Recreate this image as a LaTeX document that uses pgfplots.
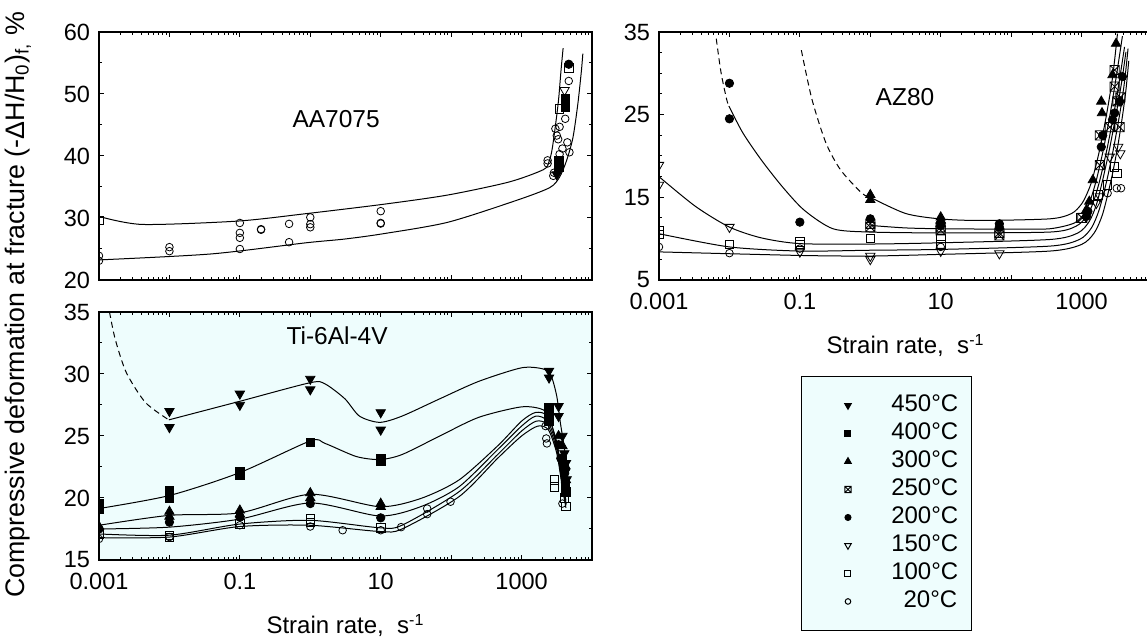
\documentclass[border=0pt]{standalone}
\usepackage{fontspec}
\setmainfont{Liberation Sans}
\usepackage{pgfplots}
\pgfplotsset{compat=1.18}
\definecolor{bgc}{RGB}{238,253,253}
\pgfdeclareplotmark{boxx}{%
  \pgfpathrectangle{\pgfqpoint{-\pgfplotmarksize}{-\pgfplotmarksize}}{\pgfqpoint{2\pgfplotmarksize}{2\pgfplotmarksize}}%
  \pgfpathmoveto{\pgfqpoint{-\pgfplotmarksize}{-\pgfplotmarksize}}%
  \pgfpathlineto{\pgfqpoint{\pgfplotmarksize}{\pgfplotmarksize}}%
  \pgfpathmoveto{\pgfqpoint{-\pgfplotmarksize}{\pgfplotmarksize}}%
  \pgfpathlineto{\pgfqpoint{\pgfplotmarksize}{-\pgfplotmarksize}}%
  \pgfusepathqstroke}
\pgfplotsset{
  crv/.style={black, line width=0.5pt, smooth, tension=0.45, mark=none},
  dcrv/.style={crv, dash pattern=on 3pt off 2pt},
  m450/.style={black, only marks, mark=triangle*, mark size=2.7pt, mark options={rotate=180, fill=black}},
  m400/.style={black, only marks, mark=square*, mark size=2.1pt, mark options={fill=black}},
  m300/.style={black, only marks, mark=triangle*, mark size=2.7pt, mark options={fill=black}},
  m250/.style={black, only marks, mark=boxx, mark size=2.3pt},
  m200/.style={black, only marks, mark=*, mark size=2.1pt, mark options={fill=black}},
  m150/.style={black, only marks, mark=triangle, mark size=2.7pt, mark options={rotate=180}},
  m100/.style={black, only marks, mark=square, mark size=2.1pt},
  m20/.style={black, only marks, mark=o, mark size=1.9pt},
  every axis/.append style={scale only axis, width=246.5pt, height=124pt,
    xmin=0.001, xmax=10000,
    xtick={0.001,0.01,0.1,1,10,100,1000,10000},
    minor xtick={0.002,0.003,0.004,0.005,0.006,0.007,0.008,0.009,0.02,0.03,0.04,0.05,0.06,0.07,0.08,0.09,0.2,0.3,0.4,0.5,0.6,0.7,0.8,0.9,2,3,4,5,6,7,8,9,20,30,40,50,60,70,80,90,200,300,400,500,600,700,800,900,2000,3000,4000,5000,6000,7000,8000,9000},
    clip marker paths=true,
    axis line style={line width=0.75pt},
    tick style={black, line width=0.5pt},
    major tick length=2.5pt, minor tick length=1.5pt,
    tick label style={font=\fontsize{11.75}{13}\selectfont},
    xticklabel style={yshift=-3pt},
    yticklabel style={xshift=-1pt},
    x label style={at={(axis description cs:0.5,-0.298)}, anchor=base, font=\fontsize{12}{14}\selectfont},
  },
}
\begin{document}
\begin{tikzpicture}[font=\fontsize{12.25}{14}\selectfont]
% ---------------- AA7075 ----------------
\begin{semilogxaxis}[at={(49.5pt,178.5pt)}, anchor=south west,
  ymin=20, ymax=60, ytick={20,30,40,50,60}, yticklabels={20,30,40,50,60},
  minor ytick={25,35,45,55}, xticklabels={}]
\addplot[crv] coordinates {(0.001,30.26)(0.0041,28.96)(0.093,29.5)(0.87,30.7)(10.7,32.2)(89,33.7)(661,35.8)(2042,37.8)(2455,39.1)(2754,41.5)(3311,48.5)(3631,53.8)(3890,57.4)};
\addplot[crv] coordinates {(0.001,23.24)(0.039,24.2)(0.87,26.0)(3.05,26.6)(10.7,27.45)(89,29.3)(851,32.85)(2512,34.9)(3467,36.6)(4365,39.3)(5370,43.0)(6310,48.5)(7080,53.8)(7413,56.5)};
\addplot[m20] coordinates {(0.001,23.9)(0.001,23.1)(0.01,25.3)(0.01,24.65)(0.1,29.2)(0.1,27.6)(0.1,26.8)(0.1,25.0)(0.2,28.1)(0.2,28.2)(0.5,29.05)(0.5,26.1)(1,30.1)(1,29.0)(1,28.5)(10,31.1)(10,29.2)(10,29.1)(2344,39.3)(2344,38.8)(2818,36.8)(2884,37.3)(3020,44.4)(3162,43.3)(3311,42.7)(3467,44.7)(4169,46.0)(4677,52.1)(4467,42.2)(4786,40.6)(3802,41.2)(3467,40.3)};
\addplot[m100] coordinates {(0.001,29.6)(3467,47.6)(4677,54.2)};
\addplot[m200] coordinates {(4677,54.8)};
\addplot[m400] coordinates {(4169,47.9)(4169,49.3)(3388,39.3)(3388,38.2)};
\addplot[m150] coordinates {(4074,50.6)};
\addplot[m450] coordinates {(3162,37.0)};
\node at (axis description cs:0.481,0.65) {AA7075};
\end{semilogxaxis}
% ---------------- Ti-6Al-4V ----------------
\begin{semilogxaxis}[at={(49.5pt,38.5pt)}, anchor=south west,
  axis background/.style={fill=bgc},
  ymin=15, ymax=35, ytick={15,20,25,30,35}, yticklabels={15,20,25,30,35},
  minor ytick={17.5,22.5,27.5,32.5},
  xticklabels={0.001,,0.1,,10,,1000,},
  xlabel={Strain rate,\ \ s\textsuperscript{-1}}]
\addplot[dcrv] coordinates {(0.00141,35)(0.0017,32.8)(0.00245,30.1)(0.00457,27.7)(0.0098,26.3)};
\addplot[crv] coordinates {(0.0098,26.3)(0.1,27.8)(1,29.3)(1.62,29.2)(3.1,28.0)(5.0,26.6)(9.66,26.1)(20,26.6)(69,28.0)(245,29.4)(1000,30.5)(2042,30.4)(2630,29.85)(3162,28.2)(3548,26.1)(4074,23.9)(4365,21.8)};
\addplot[crv] coordinates {(0.001,19.15)(0.01,20.2)(0.1,22.05)(1,24.6)(1.62,24.4)(4.47,23.35)(9.66,23.1)(20,23.5)(69,25.0)(245,26.5)(1000,27.35)(2042,27.1)(2630,26.05)(3162,24.2)(3802,22.3)(4266,20.9)};
\addplot[crv] coordinates {(0.001,17.8)(0.01,18.6)(0.1,18.8)(1,20.3)(9.66,19.3)(37,19.96)(129,21.45)(457,24.2)(1000,26.2)(1585,26.9)(2344,26.6)(3162,24.5)(3802,21.5)(4266,19.8)};
\addplot[crv] coordinates {(0.001,17.5)(0.01,17.65)(0.1,18.3)(1,19.6)(9.66,18.55)(37,19.3)(129,20.9)(457,23.9)(1000,25.8)(1585,26.6)(2344,26.2)(3162,24.2)(3802,21.3)(4266,19.6)};
\addplot[crv] coordinates {(0.001,17.1)(0.01,17.0)(0.1,17.9)(1,18.2)(9.66,17.6)(20,17.8)(129,20.5)(457,23.5)(1000,25.4)(1622,26.2)(2344,25.9)(3162,23.9)(3802,21.0)(4266,19.4)};
\addplot[crv] coordinates {(0.001,16.8)(0.01,16.85)(0.1,17.7)(1,17.8)(9.66,17.3)(20,17.5)(129,20.1)(457,23.2)(1000,25.0)(1700,25.8)(2400,25.5)(3162,23.6)(3802,20.8)(4266,19.2)};
\addplot[m450] coordinates {(0.01,27.0)(0.01,25.7)(0.1,28.4)(0.1,27.5)(1,29.6)(1,28.75)(10,26.9)(10,25.5)(2455,30.25)(2455,29.7)(3350,27.4)(3350,26.6)(3802,25.0)(4046,23.6)(4169,22.1)(4266,22.8)(4365,21.5)};
\addplot[m400] coordinates {(0.001,19.55)(0.001,19.1)(0.01,20.6)(0.01,19.96)(0.1,22.1)(0.1,21.8)(1,24.5)(10,23.2)(10,23.0)(2455,27.3)(2455,26.7)(2455,26.2)(3802,23.1)(4046,22.5)(4169,21.2)(4266,20.5)};
\addplot[m300] coordinates {(0.001,17.7)(0.01,18.9)(0.01,18.5)(0.1,19.0)(0.1,18.7)(1,20.4)(1,20.0)(10,19.55)(10,19.3)(3350,25.0)(3802,24.2)(4266,21.45)(4169,22.6)};
\addplot[m200] coordinates {(0.001,17.5)(0.01,18.05)(0.1,18.45)(1,19.55)(10,18.4)(3350,24.3)(3600,23.2)(4266,20.6)(4100,22.0)};
\addplot[m100] coordinates {(0.001,17.1)(0.01,17.0)(0.01,16.8)(0.1,17.9)(1,18.3)(1,18.05)(10,17.6)(2900,21.45)(2900,20.9)(4046,20.0)(4266,19.3)};
\addplot[m20] coordinates {(0.001,16.7)(0.01,16.85)(0.1,17.8)(1,17.7)(2.88,17.4)(10,17.4)(19.5,17.65)(45.7,18.7)(45.7,19.15)(98,19.7)(2188,25.8)(2240,24.8)(2290,24.4)(3802,19.55)};
\node at (axis description cs:0.483,0.903) {Ti-6Al-4V};
\end{semilogxaxis}
% ---------------- AZ80 ----------------
\begin{semilogxaxis}[at={(329.5pt,178.5pt)}, anchor=south west,
  ymin=5, ymax=35, ytick={5,15,25,35}, yticklabels={5,15,25,35},
  minor ytick={7.5,10,12.5,17.5,20,22.5,27.5,30,32.5},
  xticklabels={0.001,,0.1,,10,,1000,},
  xlabel={Strain rate,\ \ s\textsuperscript{-1}},
  legend cell align=right,
  legend image code/.code={\path (-16pt,0pt); \draw[#1] plot coordinates {(0pt,0pt)};},
  legend style={at={(0.288,-0.387)}, anchor=north west, draw=black, line width=0.5pt, fill=bgc,
    inner xsep=7pt, inner ysep=7.5pt, row sep=0pt, column sep=20pt,
    font=\fontsize{12}{14}\selectfont,
    nodes={inner sep=0pt, text width=33pt, align=right, text height=10pt, text depth=4pt}}]
\addlegendimage{m450, mark size=1.9pt}\addlegendentry{450°C}
\addlegendimage{m400, mark size=1.5pt}\addlegendentry{400°C}
\addlegendimage{m300, mark size=1.9pt}\addlegendentry{300°C}
\addlegendimage{m250, mark size=1.6pt}\addlegendentry{250°C}
\addlegendimage{m200, mark size=1.5pt}\addlegendentry{200°C}
\addlegendimage{m150, mark size=1.9pt}\addlegendentry{150°C}
\addlegendimage{m100, mark size=1.5pt}\addlegendentry{100°C}
\addlegendimage{m20, mark size=1.4pt}\addlegendentry{20°C}
% curves
\addplot[dcrv, forget plot] coordinates {(0.105,32.8)(0.148,26.9)(0.234,21.6)(0.38,18.3)(0.76,15.5)(1,15.0)};
\addplot[crv, forget plot] coordinates {(1,15.0)(3.16,13.05)(9.55,12.4)(33.9,12.2)(355,12.4)(724,13.05)(1000,14.2)(1202,15.5)(1413,17.1)(1778,20.5)(2239,24.8)(2754,29.5)(3236,34.8)};
\addplot[crv, forget plot] coordinates {(1,11.6)(3.16,11.3)(10,11.2)(100,11.15)(355,11.2)(794,11.9)(1122,13.2)(1349,14.8)(1622,17.1)(2042,20.8)(2570,25.3)(3162,30)(3802,34.5)};
\addplot[dcrv, forget plot] coordinates {(0.0065,34.2)(0.0076,30.1)(0.0091,26.9)(0.0098,26.05)};
\addplot[crv, forget plot] coordinates {(0.0098,26.05)(0.0155,22.8)(0.0282,19.55)(0.0562,16.3)(0.115,13.45)(0.295,11.2)(1,10.8)(10,10.7)(355,10.8)(832,11.5)(1202,12.8)(1479,14.5)(1820,17.1)(2291,20.8)(2884,25.2)(3467,29.3)(4074,33.2)};
\addplot[crv, forget plot] coordinates {(0.001,17.5)(0.0033,13.9)(0.01,11.4)(0.0282,10.1)(0.1,9.4)(1,9.35)(10,9.5)(355,9.9)(891,10.7)(1288,12.1)(1622,14.1)(1995,17.1)(2512,21)(3162,25.5)(3715,29)(4266,32.6)};
\addplot[crv, forget plot] coordinates {(0.001,10.6)(0.01,9.0)(0.1,8.5)(1,8.6)(10,8.7)(355,9.1)(933,9.9)(1380,11.3)(1778,13.5)(2291,17.1)(2884,21.2)(3548,25.5)(4074,29)(4571,33)};
\addplot[crv, forget plot] coordinates {(0.001,8.4)(0.1,7.97)(1,7.9)(10,8.1)(355,8.5)(1000,9.3)(1514,10.7)(1995,13)(2630,17.1)(3236,21)(3802,24.8)(4266,28)(4677,31.5)};
% data
\addplot[m300, forget plot] coordinates {(1,15.3)(1,14.7)(10,12.6)(10,12.2)(10,11.8)(3090,33.6)(2754,29.8)(1905,26.6)(1950,25.2)(1445,17.1)(1288,14.5)(1175,13.5)};
\addplot[m250, forget plot] coordinates {(1,11.8)(1,11.4)(10,11.4)(10,11.0)(68,10.4)(68,10.7)(2951,30.4)(2951,28.4)(3236,26.6)(2512,23.5)(1820,22.5)(1820,18.9)(1023,12.5)(3548,27.1)(3467,23.5)};
\addplot[m200, forget plot] coordinates {(0.01,28.8)(0.01,24.5)(0.1,12.0)(1,12.4)(10,12.0)(10,11.6)(68,11.8)(68,11.4)(3802,29.6)(3467,26.6)(2951,25.2)(2754,24.4)(1995,22.5)(1905,21.1)(1175,12.7)(1230,13.3)};
\addplot[m150, forget plot] coordinates {(0.001,18.9)(0.001,16.5)(0.01,11.4)(0.1,8.4)(1,7.9)(1,7.5)(10,8.5)(68,8.2)(1622,14.3)(2512,19.9)(3311,21.1)(3548,20.3)(1820,15.1)};
\addplot[m100, forget plot] coordinates {(0.001,11.0)(0.001,10.5)(0.01,9.3)(0.1,9.6)(0.1,9.3)(1,10.0)(10,10.0)(10,9.3)(2951,18.7)(3162,17.9)(2344,16.5)(1698,15.3)(977,12.5)};
\addplot[m20, forget plot] coordinates {(0.001,9.0)(0.01,8.25)(0.1,8.8)(10,9.0)(3631,16.1)(3162,16.1)(2344,15.5)};
\node at (axis description cs:0.499,0.738) {AZ80};
\end{semilogxaxis}
% shared y label
\node[rotate=90, font=\fontsize{13.4}{15}\selectfont] at (9pt,166pt) {Compressive deformation at fracture (-ΔH/H\textsubscript{0})\textsubscript{f,}\ \%};
\pgfresetboundingbox
\path[use as bounding box] (0pt,0pt) rectangle (573.5pt,318.5pt);
\end{tikzpicture}
\end{document}
